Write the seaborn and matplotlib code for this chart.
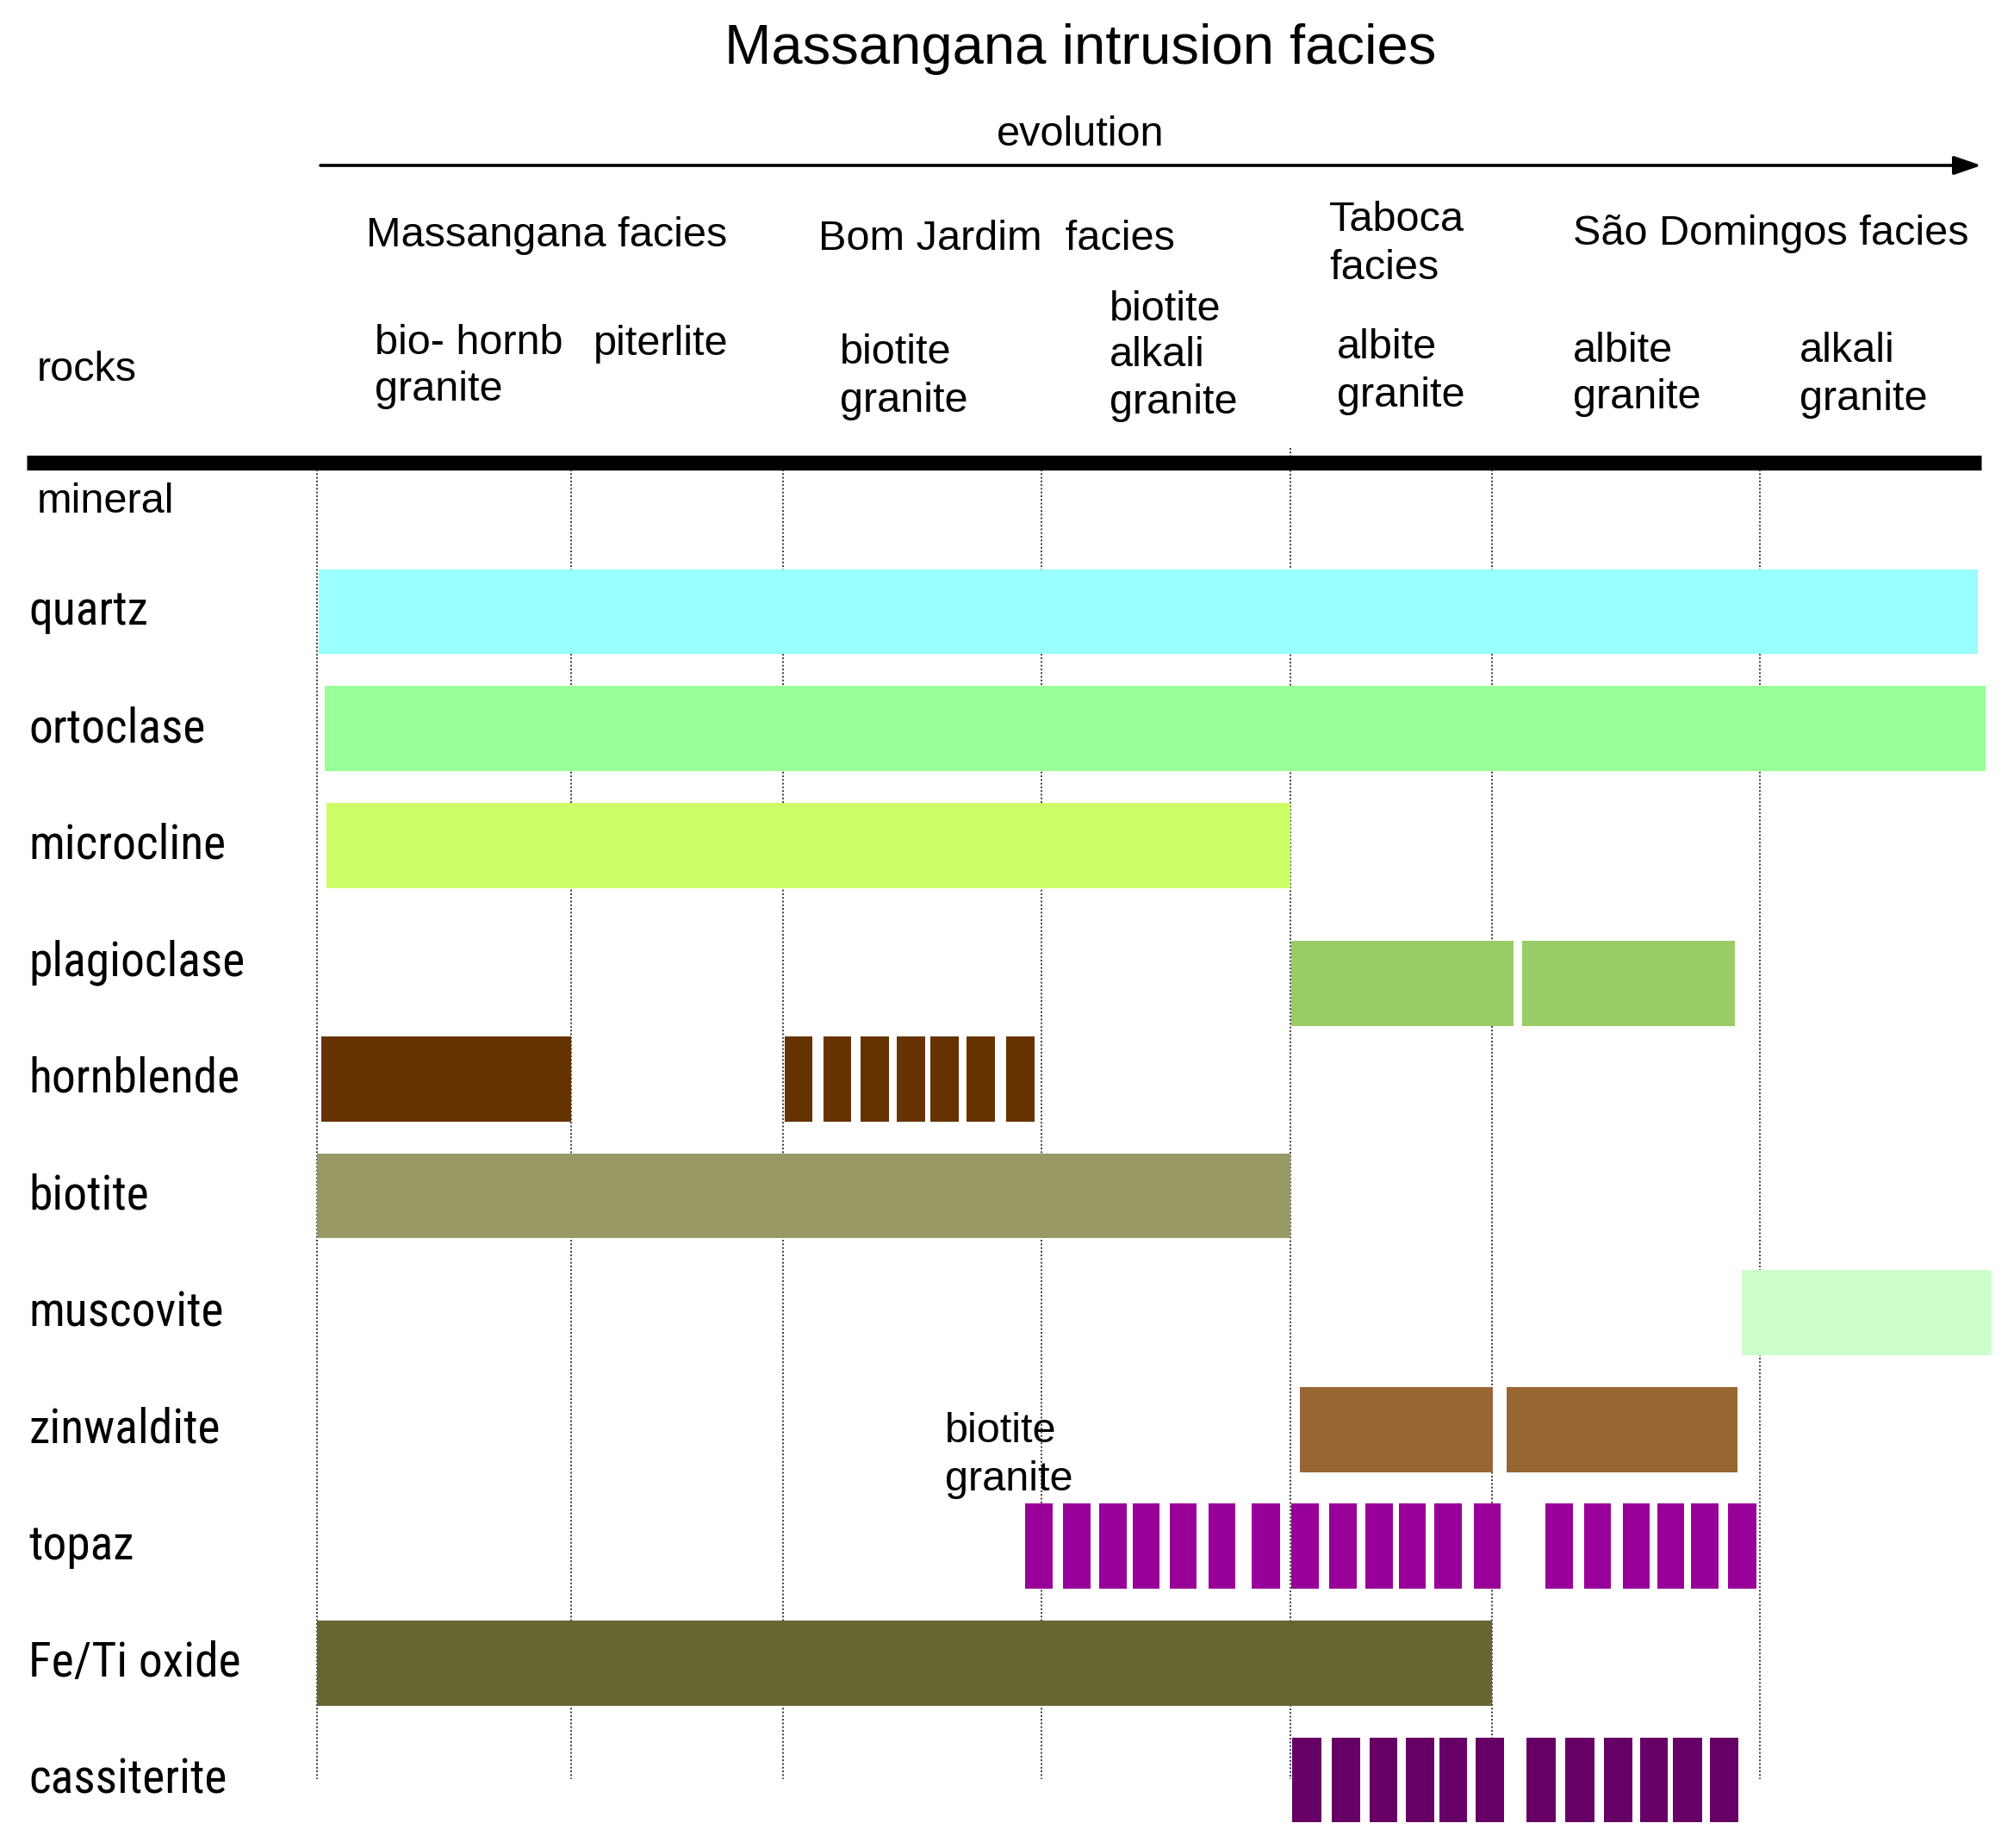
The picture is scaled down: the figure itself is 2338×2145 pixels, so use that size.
import matplotlib
matplotlib.use("Agg")
import matplotlib.pyplot as plt
from matplotlib import font_manager
import seaborn as sns
import pandas as pd

# ---------------------------------------------------------------
# data: mineral rows, colours and spans along the evolution axis
# ---------------------------------------------------------------
minerals = ["quartz", "ortoclase", "microcline", "plagioclase", "hornblende",
            "biotite", "muscovite", "zinwaldite", "topaz", "Fe/Ti oxide",
            "cassiterite"]
mineral_colors = ["#99FFFF", "#99FF99", "#CCFF66", "#99CC66", "#663300",
                  "#999966", "#CCFFCC", "#996633", "#990099", "#666633",
                  "#660066"]

quartz = [(370, 2296)]
ortoclase = [(377, 2305)]
microcline = [(379, 1498)]
plagioclase = [(1499, 1757), (1767, 2014)]
hornblende = [(373, 663), (911, 943), (956, 988), (999, 1032), (1041, 1074),
              (1080, 1113), (1122, 1155), (1168, 1201)]
biotite = [(368, 1498)]
muscovite = [(2022, 2312)]
zinwaldite = [(1509, 1733), (1749, 2017)]
topaz = [(1190, 1222), (1234, 1266), (1276, 1308), (1315, 1346), (1358, 1389),
         (1403, 1434), (1453, 1486), (1499, 1531), (1543, 1575), (1585, 1617),
         (1624, 1655), (1665, 1697), (1711, 1742), (1794, 1826), (1839, 1870),
         (1884, 1915), (1924, 1955), (1963, 1995), (2006, 2039)]
fe_ti_oxide = [(368, 1732)]
cassiterite = [(1500, 1534), (1546, 1579), (1590, 1622), (1632, 1665),
               (1671, 1703), (1713, 1746), (1772, 1806), (1817, 1851),
               (1862, 1895), (1904, 1936), (1942, 1976), (1985, 2018)]

spans = [quartz, ortoclase, microcline, plagioclase, hornblende, biotite,
         muscovite, zinwaldite, topaz, fe_ti_oxide, cassiterite]

# facies / rock boundaries on the evolution axis
boundaries = [368, 663, 909, 1209, 1498, 1732, 2043]

# header texts (each line separately): text, left x, centre y (pixels)
facies_labels = [("Massangana facies", 425, 274), ("Bom Jardim  facies", 950, 277),
                 ("Taboca", 1543, 256), ("facies", 1543, 312),
                 ("São Domingos facies", 1826, 271)]
rock_labels = [("bio- hornb", 435, 398), ("granite", 435, 452),
               ("piterlite", 689, 400),
               ("biotite", 975, 409), ("granite", 975, 465),
               ("biotite", 1288, 359), ("alkali", 1288, 413), ("granite", 1288, 468),
               ("albite", 1552, 404), ("granite", 1552, 459),
               ("albite", 1826, 407), ("granite", 1826, 462),
               ("alkali", 2089, 407), ("granite", 2089, 464)]

rows = []
for i, (name, col, sp) in enumerate(zip(minerals, mineral_colors, spans)):
    for s, e in sp:
        rows.append({"mineral": name, "row": i, "start": s, "end": e, "color": col})
df = pd.DataFrame(rows)

# ---------------------------------------------------------------
# layout
# ---------------------------------------------------------------
W, H, DPI = 2338, 2145, 100
ROW0, ROW_H = 710, 135.6          # pixel centre of first row, row pitch
BAR_H = 0.73
nudge = {"plagioclase": 0.18}

sns.set_theme(style="white")
plt.rcParams["font.family"] = ["Liberation Sans", "DejaVu Sans"]
plt.rcParams["text.color"] = "black"

# row names are in a narrow face in the original; use one if installed
installed = {f.name for f in font_manager.fontManager.ttflist}
narrow = None
for cand in ["Liberation Sans Narrow", "Arial Narrow", "Roboto Condensed",
             "DejaVu Sans Condensed", "Open Sans Condensed"]:
    if cand in installed:
        narrow = cand
        break
if narrow is not None:
    label_family, label_size = [narrow, "DejaVu Sans"], 40
else:
    label_family, label_size = ["Liberation Sans", "DejaVu Sans"], 37

fig = plt.figure(figsize=(W / DPI, H / DPI), dpi=DPI)
ax = fig.add_axes([0, 0, 1, 1])
ax.set_xlim(0, W)
ax.set_ylim((H - ROW0) / ROW_H, -ROW0 / ROW_H)
ax.set_axis_off()


def py(y):
    return (y - ROW0) / ROW_H


def ftext(x, y, s, **kw):
    fig.text(x / W, 1 - y / H, s, **kw)


# dotted boundaries
for b in boundaries:
    top = 520 if b == 1498 else 545
    ax.vlines(b, py(top), py(2065), colors="#3a3a3a", linewidth=1.4,
              linestyles=(0, (1, 1.2)), zorder=1)

# thick separator and evolution arrow
ax.hlines(py(537), 31, 2300, colors="black", linewidth=12.5, zorder=3)
ax.annotate("", xy=(2300, py(192)), xytext=(372, py(192)),
            arrowprops=dict(arrowstyle="-|>,head_length=1.6,head_width=0.55",
                            color="black", lw=2.6, shrinkA=0, shrinkB=0))

# mineral bars
for _, r in df.iterrows():
    y = r["row"] + nudge.get(r["mineral"], 0)
    ax.barh(y, r["end"] - r["start"], left=r["start"], height=BAR_H,
            color=r["color"], linewidth=0, zorder=2)

# mineral names
for i, name in enumerate(minerals):
    ax.text(33, i, name, ha="left", va="center", fontsize=label_size,
            family=label_family, color="black")

# titles / headers
ftext(1254, 57, "Massangana intrusion facies", ha="center", va="center", fontsize=47)
ftext(1254, 157, "evolution", ha="center", va="center", fontsize=35)
for s, x, y in facies_labels + rock_labels:
    ftext(x, y, s, ha="left", va="center", fontsize=35)
ftext(43, 429, "rocks", ha="left", va="center", fontsize=35)
ftext(43, 583, "mineral", ha="left", va="center", fontsize=35)
ftext(1097, 1661, "biotite", ha="left", va="center", fontsize=35, zorder=5)
ftext(1097, 1718, "granite", ha="left", va="center", fontsize=35, zorder=5)

fig.savefig("out.png", dpi=DPI, facecolor="white")
